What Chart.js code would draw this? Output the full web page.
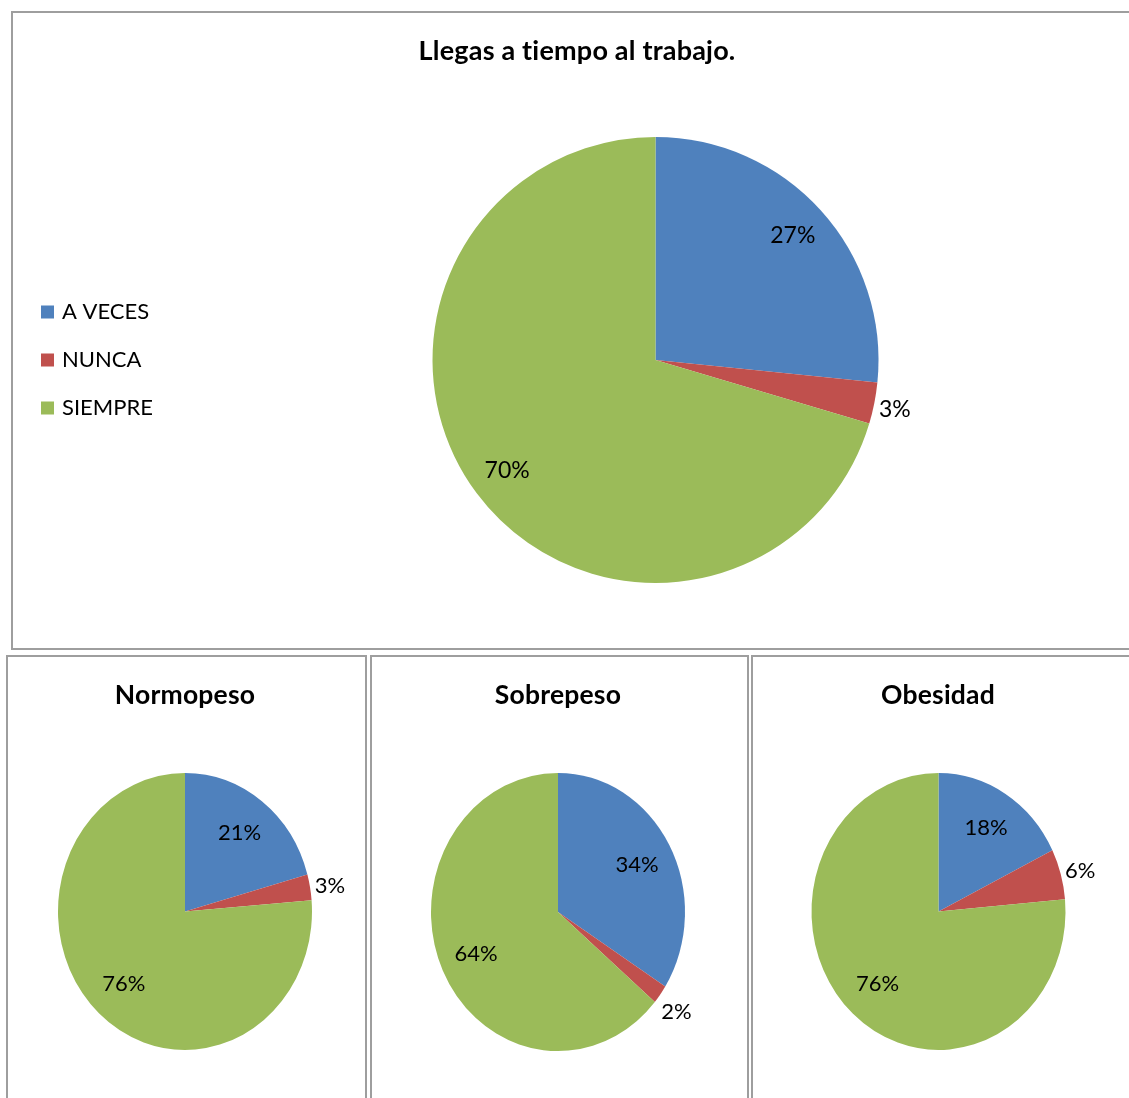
<!DOCTYPE html>
<html><head><meta charset="utf-8">
<script src="https://cdn.jsdelivr.net/npm/chart.js@4.4.1/dist/chart.umd.min.js"></script>
<style>
html,body{margin:0;padding:0;background:#fff;width:1129px;height:1098px;overflow:hidden;position:relative;}
.box{position:absolute;border:2px solid #9e9e9e;box-sizing:border-box;background:#fff;}
canvas{position:absolute;left:0;top:0;}
</style></head><body>
<div class="box" style="left:11px;top:11px;width:1140px;height:639px"><canvas id="c0"></canvas></div>
<div class="box" style="left:6px;top:655px;width:361px;height:470px"><canvas id="c1"></canvas></div>
<div class="box" style="left:370px;top:655px;width:379px;height:470px"><canvas id="c2"></canvas></div>
<div class="box" style="left:751px;top:655px;width:390px;height:470px"><canvas id="c3"></canvas></div>
<script>
// ---- data ----
const categories = ['A VECES', 'NUNCA', 'SIEMPRE'];
const sliceColors = ['#4F81BD', '#C0504D', '#9BBB59'];
const topTitle = 'Llegas a tiempo al trabajo.';
const topValues = [26.6, 3.0, 70.4];
const normTitle = 'Normopeso';
const normValues = [20.7, 3.0, 76.3];
const sobreTitle = 'Sobrepeso';
const sobreValues = [34.0, 2.2, 63.8];
const obesTitle = 'Obesidad';
const obesValues = [17.7, 5.9, 76.4];

// ---- plugin: elliptical pies, labels, title, legend ----
const piePlugin = {
  id: 'piex',
  beforeDatasetsDraw(chart) {
    const o = chart.options.plugins.piex;
    const a = chart.getDatasetMeta(0).data[0];
    const ctx = chart.ctx;
    ctx.save();
    ctx.translate(a.x, a.y); ctx.scale(1, o.sy); ctx.translate(-a.x, -a.y);
  },
  afterDatasetsDraw(chart) { chart.ctx.restore(); },
  afterDraw(chart) {
    const o = chart.options.plugins.piex;
    const ctx = chart.ctx;
    const ds = chart.data.datasets[0].data;
    const total = ds.reduce((s, v) => s + v, 0);
    ctx.save();
    ctx.fillStyle = '#000';
    // data labels
    ctx.font = o.labelFont;
    ctx.textAlign = 'center'; ctx.textBaseline = 'middle';
    chart.getDatasetMeta(0).data.forEach((arc, i) => {
      const pct = Math.round(ds[i] / total * 100);
      const txt = pct + '%';
      const mid = (arc.startAngle + arc.endAngle) / 2;
      const r = arc.outerRadius;
      const c = Math.cos(mid), s = Math.sin(mid);
      let x, y;
      if (pct < 10) {
        const w = ctx.measureText(txt).width;
        const h = o.labelSize * 0.9;
        const d = o.gap + Math.sqrt(w * w / 4 + h * h / 4);
        x = arc.x + c * r + c * d;
        y = arc.y + s * r * o.sy + s * d + (s > 0.3 ? 6 : 2);
      } else {
        x = arc.x + c * r * o.inFrac;
        y = arc.y + s * r * o.inFrac * o.sy;
      }
      ctx.fillText(txt, x, y);
    });
    // title
    ctx.font = o.titleFont;
    if ('letterSpacing' in ctx) ctx.letterSpacing = '0.2px';
    ctx.textAlign = 'center'; ctx.textBaseline = 'alphabetic';
    ctx.fillText(o.title, o.titleX, o.titleY);
    if ('letterSpacing' in ctx) ctx.letterSpacing = '0px';
    // legend
    if (o.legend) {
      const L = o.legend;
      ctx.font = L.font; ctx.textAlign = 'left'; ctx.textBaseline = 'middle';
      categories.forEach((cat, i) => {
        const y = L.y0 + i * L.dy;
        ctx.fillStyle = sliceColors[i];
        ctx.fillRect(L.x, y - L.box / 2, L.box, L.box);
        ctx.fillStyle = '#000';
        ctx.fillText(cat, L.x + L.box + L.textGap, y);
      });
    }
    ctx.restore();
  }
};

function makePie(id, ox, oy, w, h, cx, cy, r, sy, values, extra) {
  const cv = document.getElementById(id);
  cv.width = w; cv.height = h;
  cv.style.width = w + 'px'; cv.style.height = h + 'px';
  const lx = cx - ox, ly = cy - oy;
  return new Chart(cv, {
    type: 'pie',
    data: {
      labels: categories,
      datasets: [{ data: values, backgroundColor: sliceColors, borderWidth: 0, clip: false }]
    },
    options: {
      responsive: false, animation: false, devicePixelRatio: 1,
      layout: { padding: { left: lx - r, right: w - lx - r, top: ly - r, bottom: h - ly - r } },
      plugins: {
        legend: { display: false }, tooltip: { enabled: false }, title: { display: false },
        piex: Object.assign({ sy: sy }, extra, {
          titleX: extra.titleX - ox, titleY: extra.titleY - oy,
          legend: extra.legend ? Object.assign({}, extra.legend, { x: extra.legend.x - ox, y0: extra.legend.y0 - oy }) : null
        })
      }
    },
    plugins: [piePlugin]
  });
}

const FONT = 'Lato, "Open Sans", sans-serif';

makePie('c0', 13, 13, 1116, 635, 655.5, 360, 223, 1.0, topValues, {
  title: topTitle, titleX: 577, titleY: 60, titleFont: 'bold 27px ' + FONT,
  labelFont: '23px ' + FONT, labelSize: 23, inFrac: 0.83, gap: 2,
  legend: { x: 41, y0: 312, dy: 48, box: 13, textGap: 8, font: '22px ' + FONT }
});
const bottomCommon = { labelFont: '22px ' + FONT, labelSize: 22, inFrac: 0.71, gap: 2, titleFont: 'bold 26.5px ' + FONT };
makePie('c1', 8, 657, 357, 441, 185, 911.5, 127, 1.09, normValues,
  Object.assign({ title: normTitle, titleX: 185, titleY: 704 }, bottomCommon));
makePie('c2', 372, 657, 374, 441, 558, 912, 127, 1.095, sobreValues,
  Object.assign({ title: sobreTitle, titleX: 558, titleY: 704 }, bottomCommon));
makePie('c3', 753, 657, 376, 441, 938.5, 911.5, 127, 1.09, obesValues,
  Object.assign({ title: obesTitle, titleX: 938, titleY: 704 }, bottomCommon));
</script>
</body></html>
